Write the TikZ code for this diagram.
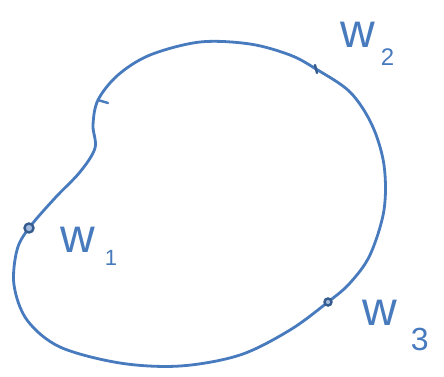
\documentclass[tikz,border=0pt]{standalone}
\usepackage{fontspec}
\setmainfont{Liberation Sans}
\usetikzlibrary{calc}
\definecolor{pen}{RGB}{72,122,190}
\newcommand{\wlab}[4]{w\hspace{#1pt}\raisebox{-#2pt}{\fontsize{#4}{#4}\selectfont #3}}
\begin{document}
\begin{tikzpicture}[x=1pt,y=-1pt,
  curve/.style={draw=pen,line width=2.8pt,line cap=round,line join=round},
  dot/.style={circle,draw=pen!75!black,line width=2.4pt,inner sep=0pt,minimum size=8pt,fill=pen!50},
  lab/.style={text=pen,font=\fontsize{48}{48}\selectfont,anchor=base west,inner sep=0pt}]
\useasboundingbox[fill=white] (0,0) rectangle (444,376);
\coordinate (p1) at (29,228);
\coordinate (p2) at (98,100);
\coordinate (p3) at (316,69);
\coordinate (p4) at (328,302);
\draw[curve] plot[smooth cycle,tension=0.55] coordinates {
 (29,228) (55,198) (80,172) (95,148) (93,125) (98,100) (118,75) (150,55)
 (200,42) (250,44) (290,55) (316,69) (350,92) (372,125) (384,165) (384,210)
 (370,255) (350,283) (328,302) (290,330) (240,355) (180,366) (120,363)
 (60,347) (27,320) (14,285) (17,250)};
\draw[curve,line width=2.4pt] (p2) -- ++(10,3);
\draw[curve,line width=2.4pt,draw=pen!75!black] ($(p3)+(-1,-4)$) -- ($(p3)+(1,4)$);
\node[dot,minimum size=9pt] (d1) at (p1) {};
\node[dot,minimum size=7pt] (d3) at (p4) {};
\node[lab] (w1) at (60,252) {\wlab{10}{13}{1}{22}};
\node[lab] (w2) at (340,47) {\wlab{6}{18}{2}{24}};
\node[lab] (w3) at (362,325) {\wlab{14}{25}{3}{32}};
\end{tikzpicture}
\end{document}
